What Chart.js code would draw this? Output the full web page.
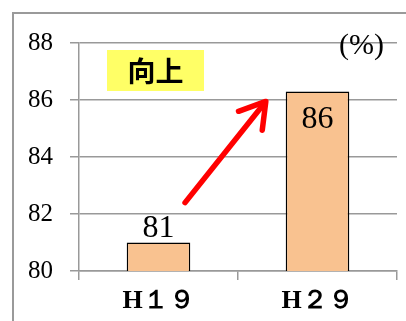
<!DOCTYPE html>
<html>
<head>
<meta charset="utf-8">
<script src="https://cdn.jsdelivr.net/npm/chart.js@4"></script>
<style>
  html, body { margin: 0; padding: 0; background: #fff; }
  #wrap { position: relative; width: 406px; height: 321px; overflow: hidden; }
  #frame { position: absolute; left: 12px; top: 12px; width: 420px; height: 330px;
           border-left: 2px solid #9a9a9a; border-top: 2px solid #9a9a9a; }
  canvas { position: absolute; left: 0; top: 0; }
</style>
</head>
<body>
<div id="wrap">
  <div id="frame"></div>
  <canvas id="c" width="406" height="321"></canvas>
</div>
<script>
// Survey years and the share (%) answering positively
const categories = ['H１９', 'H２９'];
const values = [81, 86.3];
const yTicks = [80, 82, 84, 86, 88];

// Trend arrow, given as [category index, value] for its tail and head
const arrowFrom = [0.167, 82.4];
const arrowTo = [0.675, 85.95];

const unitText = '(%)';
const badgeText = '向上';

const serif = 'Liberation Serif, DejaVu Serif, serif';

const decorations = {
  id: 'decorations',
  afterDatasetsDraw(chart) {
    const { ctx, chartArea, scales } = chart;
    const x = scales.x, y = scales.y;
    ctx.save();

    // value labels: above the short bar, inside the tall bar
    const meta = chart.getDatasetMeta(0);
    ctx.font = '32px ' + serif;
    ctx.fillStyle = '#000';
    ctx.textAlign = 'center';
    meta.data.forEach((bar, i) => {
      const txt = String(Math.round(values[i]));
      if (i === 0) {
        ctx.textBaseline = 'bottom';
        ctx.fillText(txt, bar.x, bar.y + 2);
      } else {
        ctx.textBaseline = 'top';
        ctx.fillText(txt, bar.x, bar.y + 12);
      }
    });

    // unit
    ctx.font = '30px ' + serif;
    ctx.textAlign = 'right';
    ctx.textBaseline = 'middle';
    ctx.fillText(unitText, chartArea.right - 13, chartArea.top + 3);

    // highlighted badge
    const bx = chartArea.left + 28, by = chartArea.top + 7, bw = 97, bh = 41;
    ctx.fillStyle = '#ffff66';
    ctx.fillRect(bx, by, bw, bh);
    ctx.fillStyle = '#000';
    ctx.font = 'bold 28px "Noto Sans CJK JP", sans-serif';
    ctx.textAlign = 'center';
    ctx.textBaseline = 'middle';
    ctx.fillText(badgeText, bx + bw / 2, by + bh / 2 + 1);

    // red trend arrow
    const x0 = x.getPixelForValue(arrowFrom[0]), y0 = y.getPixelForValue(arrowFrom[1]);
    const x1 = x.getPixelForValue(arrowTo[0]), y1 = y.getPixelForValue(arrowTo[1]);
    const ang = Math.atan2(y1 - y0, x1 - x0);
    const head = 29, spread = 0.55;
    ctx.strokeStyle = '#ff0000';
    ctx.lineWidth = 5.5;
    ctx.lineCap = 'round';
    ctx.lineJoin = 'round';
    ctx.beginPath();
    ctx.moveTo(x0, y0);
    ctx.lineTo(x1 - Math.cos(ang) * 3, y1 - Math.sin(ang) * 3);
    ctx.stroke();
    ctx.beginPath();
    ctx.moveTo(x1 - head * Math.cos(ang - spread), y1 - head * Math.sin(ang - spread));
    ctx.lineTo(x1, y1);
    ctx.lineTo(x1 - head * Math.cos(ang + spread), y1 - head * Math.sin(ang + spread));
    ctx.stroke();

    ctx.restore();
  }
};

new Chart(document.getElementById('c'), {
  type: 'bar',
  data: {
    labels: categories,
    datasets: [{
      data: values,
      backgroundColor: '#f9c290',
      borderColor: '#000',
      borderWidth: 1.5,
      borderSkipped: 'bottom',
      categoryPercentage: 1,
      barPercentage: 0.4
    }]
  },
  options: {
    responsive: false,
    animation: false,
    devicePixelRatio: 1,
    layout: { padding: { left: 0, top: 43, right: 9, bottom: 0 } },
    plugins: { legend: { display: false }, tooltip: { enabled: false } },
    scales: {
      x: {
        grid: { drawOnChartArea: false, drawTicks: true, tickLength: 9, color: '#999', lineWidth: 1.5 },
        border: { color: '#999', width: 1.5 },
        ticks: { color: '#000', font: { family: serif, size: 26, weight: 'bold' }, padding: 6 },
        afterFit(s) { s.height = 50; }
      },
      y: {
        min: 80, max: 88,
        afterBuildTicks(s) { s.ticks = yTicks.map(v => ({ value: v })); },
        grid: { color: '#999', lineWidth: 1.5, tickLength: 9 },
        border: { color: '#999', width: 1.5 },
        ticks: { color: '#000', font: { family: serif, size: 25 }, padding: 17 },
        afterFit(s) { s.width = 79; }
      }
    }
  },
  plugins: [decorations]
});
</script>
</body>
</html>
